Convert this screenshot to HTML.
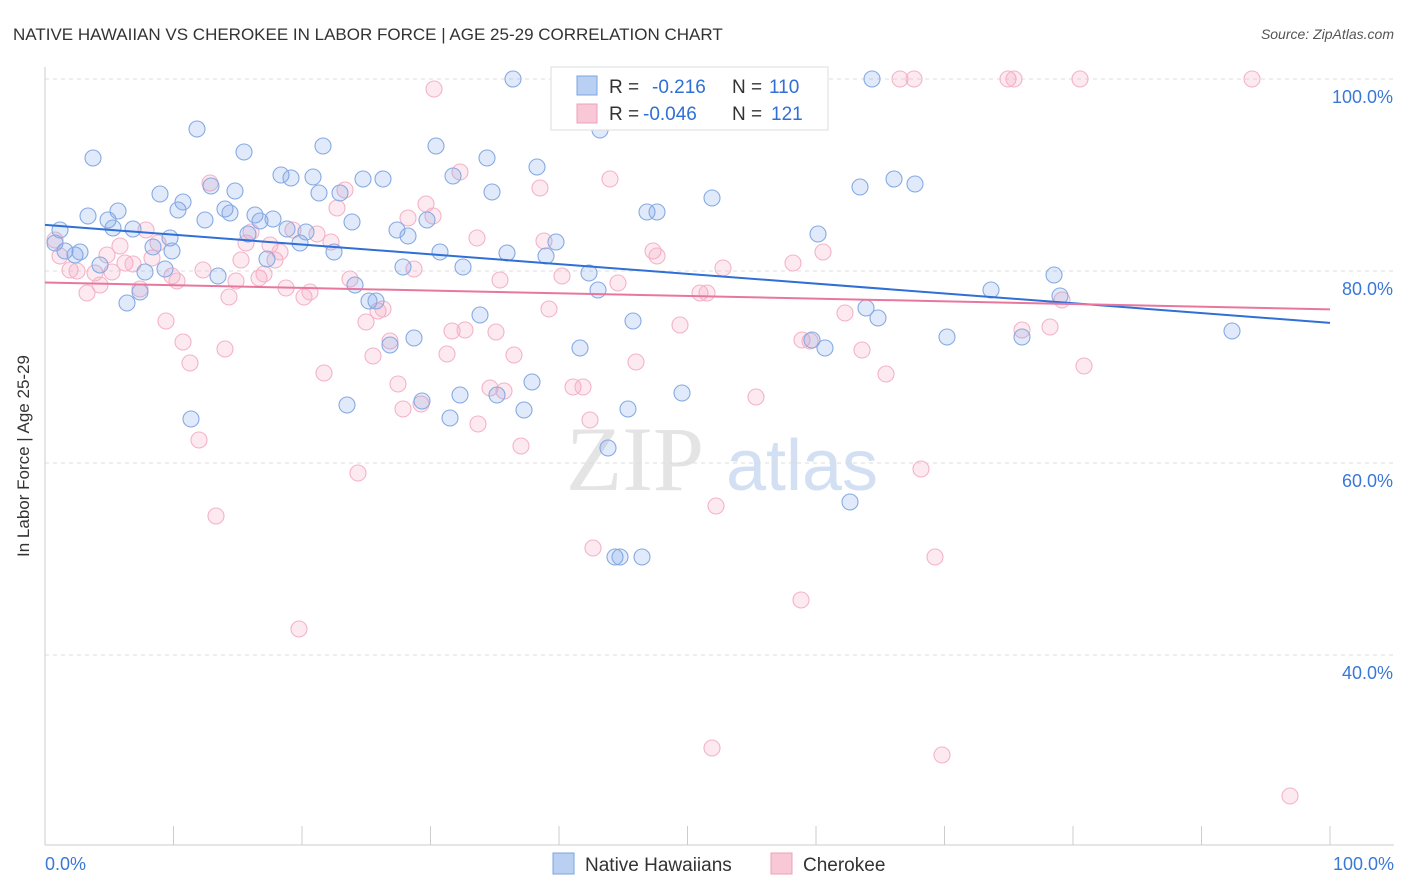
<!DOCTYPE html>
<html><head><meta charset="utf-8"><style>
body{margin:0;background:#fff;font-family:"Liberation Sans",sans-serif}
svg{display:block}
</style></head><body>
<svg id="c" width="1406" height="892">
<text x="13" y="40" font-size="17" fill="#333">NATIVE HAWAIIAN VS CHEROKEE IN LABOR FORCE | AGE 25-29 CORRELATION CHART</text>
<text x="1394" y="39" font-size="14" fill="#555" font-style="italic" text-anchor="end">Source: ZipAtlas.com</text>
<text x="29" y="456" font-size="17" fill="#333" text-anchor="middle" transform="rotate(-90 29 456)">In Labor Force | Age 25-29</text>
<g><text x="635" y="490" font-size="92" fill="#e4e4e4" font-family="Liberation Serif,serif" text-anchor="middle">ZIP</text><text x="802" y="490" font-size="72" fill="#d3e0f3" text-anchor="middle">atlas</text></g>
<g id="grid"></g><g id="pts"></g><g id="lines"></g>
<g>
<rect x="551" y="67" width="277" height="63" fill="#fff" stroke="#ddd"/>
<rect x="577" y="76" width="20" height="19" fill="#b9d0f3" stroke="#7ba3e0"/>
<rect x="577" y="104" width="20" height="19" fill="#f9c8d6" stroke="#f0a0b8"/>
<text y="93" font-size="19" fill="#333"><tspan x="609">R =</tspan><tspan x="652" fill="#2f6fd6">-0.216</tspan><tspan x="732">N =</tspan><tspan x="769" fill="#2f6fd6">110</tspan></text>
<text y="120" font-size="19" fill="#333"><tspan x="609">R =</tspan><tspan x="643" fill="#2f6fd6">-0.046</tspan><tspan x="732">N =</tspan><tspan x="771" fill="#2f6fd6">121</tspan></text>
</g>
<g>
<rect x="553" y="853" width="21" height="21" fill="#b9d0f3" stroke="#7ba3e0"/>
<text x="585" y="871" font-size="19" fill="#333">Native Hawaiians</text>
<rect x="771" y="853" width="21" height="21" fill="#f9c8d6" stroke="#f0a0b8"/>
<text x="803" y="871" font-size="19" fill="#333">Cherokee</text>
</g>
</svg>
<script>
const yTicks=[100,80,60,40];
const xTickLabels=["0.0%","100.0%"];
const bluePx=[[55,243],[60,230],[65,251],[75,255],[80,252],[88,216],[93,158],[100,265],[108,220],[113,228],[118,211],[127,303],[133,229],[140,292],[145,272],[153,247],[160,194],[165,269],[170,238],[178,210],[183,202],[191,419],[197,129],[205,220],[211,186],[218,276],[225,209],[230,213],[235,191],[244,152],[248,234],[255,215],[260,221],[267,259],[273,219],[281,175],[287,229],[291,178],[300,243],[306,232],[313,177],[319,193],[323,146],[334,252],[340,193],[347,405],[352,222],[355,285],[363,179],[369,301],[376,301],[383,179],[390,345],[397,230],[403,267],[408,236],[414,338],[422,401],[427,220],[436,146],[440,252],[450,418],[453,176],[460,395],[463,267],[480,315],[487,158],[492,192],[497,395],[507,253],[513,79],[524,410],[532,382],[537,167],[546,256],[556,242],[580,348],[589,273],[598,290],[600,130],[608,448],[615,557],[620,557],[628,409],[633,321],[642,557],[647,212],[657,212],[682,393],[712,198],[733,102],[747,99],[812,340],[818,234],[825,348],[850,502],[860,187],[866,308],[872,79],[878,318],[894,179],[915,184],[947,337],[991,290],[1022,337],[1054,275],[1060,296],[1232,331],[172,251],[691,79]];
const pinkPx=[[55,240],[60,256],[70,270],[77,271],[87,293],[95,273],[100,285],[107,255],[112,272],[120,246],[125,263],[133,264],[140,289],[146,230],[152,258],[158,243],[166,321],[172,276],[177,281],[183,342],[190,363],[199,440],[203,270],[210,183],[216,516],[225,349],[229,297],[236,281],[241,260],[246,243],[251,232],[259,278],[264,274],[270,245],[275,260],[280,252],[286,288],[293,230],[299,629],[304,297],[310,292],[317,234],[324,373],[331,242],[337,208],[345,190],[350,279],[358,473],[366,322],[373,356],[378,311],[383,309],[390,341],[398,384],[403,409],[408,218],[414,269],[421,404],[426,204],[433,216],[434,89],[447,354],[452,331],[460,172],[465,330],[477,238],[478,424],[490,388],[496,332],[500,280],[504,391],[514,355],[521,446],[540,188],[544,241],[549,309],[562,276],[573,387],[583,387],[590,420],[593,548],[610,179],[618,283],[636,362],[653,251],[657,256],[680,325],[700,293],[707,293],[712,748],[716,506],[723,268],[730,79],[740,79],[756,397],[793,263],[801,600],[802,340],[810,341],[815,79],[823,252],[845,313],[862,350],[886,374],[900,79],[914,79],[921,469],[935,557],[942,755],[1008,79],[1014,79],[1022,330],[1050,327],[1062,300],[1080,79],[1084,366],[1252,79],[1290,796]];
const blueData=bluePx.map(p=>[(p[0]-45)/12.85,100-(p[1]-79)/9.6]);
const pinkData=pinkPx.map(p=>[(p[0]-45)/12.85,100-(p[1]-79)/9.6]);
const blueTrend=[84.8,74.6];
const pinkTrend=[78.8,76.0];
const X=v=>45+v*12.85, Y=v=>79+(100-v)*9.6;
const NS="http://www.w3.org/2000/svg";
function mk(tag,attrs,parent){const e=document.createElementNS(NS,tag);for(const k in attrs)e.setAttribute(k,attrs[k]);document.getElementById(parent).appendChild(e);return e;}
yTicks.forEach(t=>{
 const l=mk('line',{x1:45,x2:1394,y1:Y(t),y2:Y(t),stroke:'#ddd','stroke-dasharray':'4 4'},'grid');
 
 
 const tx=mk('text',{x:1393,y:Y(t)+24,'font-size':18,fill:'#3a78d8','text-anchor':'end'},'grid');
 tx.textContent=t.toFixed(1)+'%';
 
 
});
const ax=mk('line',{x1:45,x2:45,y1:67,y2:845,stroke:'#ccc'},'grid');


const bx=mk('line',{x1:45,x2:1394,y1:845,y2:845,stroke:'#ccc'},'grid');


for(let i=0;i<=10;i++){const t=mk('line',{x1:X(i*10),x2:X(i*10),y1:826,y2:845,stroke:'#ccc'},'grid');
 
 }
[[0,'start',45],[1,'end',1394]].forEach(a=>{const t=mk('text',{x:a[2],y:870,'font-size':18,fill:'#3a78d8','text-anchor':a[1]},'grid');t.textContent=xTickLabels[a[0]];
 
 });
pinkData.forEach(d=>{const c=mk('circle',{cx:X(d[0]),cy:Y(d[1]),r:8,fill:'rgba(244,160,185,0.22)',stroke:'#f4b3c7','stroke-width':1.1},'pts');
 
 });
blueData.forEach(d=>{const c=mk('circle',{cx:X(d[0]),cy:Y(d[1]),r:8,fill:'rgba(120,160,230,0.22)',stroke:'#86aae3','stroke-width':1.1},'pts');
 
 });
const bl=mk('line',{x1:X(0),y1:Y(blueTrend[0]),x2:X(100),y2:Y(blueTrend[1]),stroke:'#2f6fd6','stroke-width':2},'lines');


const pl=mk('line',{x1:X(0),y1:Y(pinkTrend[0]),x2:X(100),y2:Y(pinkTrend[1]),stroke:'#e8779e','stroke-width':2},'lines');


</script>
</body></html>
